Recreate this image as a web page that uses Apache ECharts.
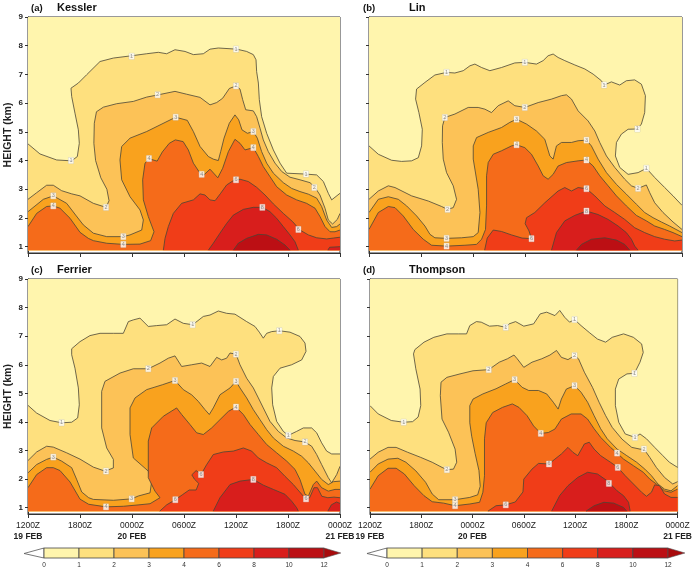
<!DOCTYPE html>
<html><head><meta charset="utf-8">
<script src="https://cdn.jsdelivr.net/npm/echarts@6/dist/echarts.min.js"></script>
<style>html,body{margin:0;padding:0;background:#fff}#c{width:695px;height:573px}</style>
</head><body><div id="c"></div>
<script>
// ---------- scales / legend ----------
const levelBounds = [0, 1, 2, 3, 4, 6, 8, 10, 12];
const levelColors = ['#FFF5AD', '#FEE07E', '#FCC257', '#F9A21E', '#F56B1A', '#F03D18', '#D81E1C', '#BC0F14', '#A80A0C'];
const timeTicks = [0, 6, 12, 18, 24, 30, 36];
const timeLabels = ['1200Z', '1800Z', '0000Z', '0600Z', '1200Z', '1800Z', '0000Z'];
const dateLabels = ['19 FEB', '', '20 FEB', '', '', '', '21 FEB'];
const heightTicks = [1, 2, 3, 4, 5, 6, 7, 8, 9];
const panelTags = ['(a)', '(b)', '(c)', '(d)'];
const panelNames = ['Kessler', 'Lin', 'Ferrier', 'Thompson'];

// ---------- (a) Kessler : contour lines [hour since 12Z 19 Feb, km] ----------
const kessler_1 = [[0,4.58],[1.38,4.23],[3.31,4.02],[5.04,3.99],[5.69,4.14],[5.92,4.6],[5.81,5.07],[5.42,5.65],[5.04,6.23],[4.96,6.52],[5.81,6.7],[6.77,6.99],[8.31,7.45],[9.85,7.57],[11.96,7.65],[13.69,7.72],[15.04,7.77],[16.0,7.72],[16.96,7.86],[18.12,7.8],[19.08,7.69],[20.23,7.72],[21.0,7.88],[21.96,7.92],[24.08,7.88],[25.23,7.8],[26.0,7.69],[26.31,7.51],[26.38,7.1],[26.58,6.7],[26.69,6.12],[26.96,5.53],[27.54,4.95],[28.31,4.37],[29.08,3.91],[29.85,3.56],[31.96,3.53],[33.31,3.5],[34.08,3.27],[34.65,2.86],[35.04,2.63],[36,2.86]];
const kessler_2 = [[0,2.65],[1.0,2.88],[2.15,3.14],[2.92,3.14],[3.88,2.95],[5.04,2.84],[6.0,2.77],[7.54,2.51],[9.0,2.37],[9.35,2.6],[9.1,3.0],[8.4,3.4],[7.8,4.0],[7.6,4.6],[7.65,5.3],[7.9,5.7],[8.7,5.86],[10.23,5.98],[12.15,6.06],[13.69,6.21],[15.04,6.29],[16.96,6.41],[18.31,6.31],[19.85,6.2],[21.0,5.94],[21.77,6.02],[22.46,6.17],[23.23,6.51],[24.0,6.6],[24.46,6.49],[24.77,6.12],[25.12,5.77],[26.0,5.73],[26.38,5.53],[26.77,5.13],[27.15,4.72],[27.73,4.31],[28.5,3.91],[29.27,3.62],[30.23,3.42],[31.38,3.33],[32.54,3.23],[33.12,3.06],[33.69,2.8],[34.27,2.34],[34.65,1.93],[35.15,1.79],[35.69,1.95],[36,2.16]];
const kessler_3 = [[0,2.22],[1.77,2.65],[2.92,2.77],[4.46,2.51],[5.5,2.1],[6.38,1.76],[7.54,1.47],[9.08,1.35],[11.0,1.35],[11.77,1.41],[13.12,1.58],[13.31,1.93],[12.92,2.28],[11.77,2.74],[10.81,3.33],[10.61,4.02],[10.81,4.49],[11.77,4.78],[13.69,5.01],[15.23,5.24],[17.04,5.51],[18.38,5.4],[19.08,5.01],[19.85,4.49],[20.81,4.14],[21.38,4.05],[21.96,4.0],[22.23,4.31],[22.62,4.78],[23.23,5.3],[23.88,5.59],[24.31,5.42],[24.69,5.07],[25.31,4.95],[26.0,5.01],[26.46,4.78],[26.96,4.31],[27.54,3.91],[28.31,3.56],[29.46,3.23],[30.42,3.03],[31.38,2.92],[32.35,2.83],[33.31,2.69],[33.88,2.4],[34.46,1.93],[35.04,1.67],[35.62,1.7],[36,1.79]];
const kessler_4 = [[0,1.7],[1.0,2.16],[2.15,2.4],[2.92,2.42],[3.69,2.34],[4.85,1.99],[6.0,1.5],[6.96,1.29],[7.54,1.21],[9.08,1.12],[11.0,1.08],[12.92,1.09],[14.15,1.21],[14.54,1.52],[13.88,2.05],[13.31,2.63],[13.23,3.33],[13.5,3.91],[14.0,4.06],[14.9,3.98],[15.5,4.3],[16.3,4.6],[17.0,4.72],[17.9,4.66],[18.5,4.37],[19.08,3.91],[19.85,3.56],[20.3,3.5],[21.0,3.7],[21.9,3.4],[22.46,3.73],[23.12,4.31],[23.88,4.74],[24.46,4.6],[25.04,4.37],[26.0,4.45],[26.58,4.14],[27.15,3.79],[27.92,3.44],[28.69,3.09],[29.85,2.8],[31.0,2.63],[32.15,2.51],[33.12,2.34],[33.69,2.05],[34.27,1.7],[34.85,1.52],[35.42,1.52],[36,1.58]];
const kessler_6 = [[15.62,0.88],[15.81,1.29],[16.19,1.7],[16.77,2.16],[17.73,2.51],[19.08,2.63],[19.85,2.84],[20.42,2.8],[21.0,2.63],[21.58,2.6],[22.23,2.86],[22.92,3.15],[23.69,3.3],[24.46,3.35],[25.42,3.27],[26.38,3.07],[27.35,2.8],[28.31,2.49],[29.46,2.16],[30.54,1.87],[31.38,1.58],[32.35,1.41],[33.31,1.31],[34.46,1.27],[35.23,1.3],[36,1.33]];
const kessler_8 = [[20.81,0.88],[21.38,1.12],[22.15,1.47],[22.92,1.81],[23.69,2.1],[24.85,2.3],[26.0,2.37],[27.04,2.37],[27.92,2.22],[28.69,1.99],[29.46,1.7],[30.23,1.41],[30.81,1.17],[31.19,0.88]];
const kessler_8b = [[34.6,0.88],[34.8,0.98],[36,1.0]];
const kessler_10 = [[23.69,0.88],[24.27,1.12],[25.23,1.29],[26.58,1.43],[27.54,1.41],[28.69,1.26],[29.65,1.06],[30.23,0.88]];
const kesslerLabels = [[11.96,7.63,'1'],[24.0,7.88,'1'],[4.96,4.0,'1'],[32.08,3.53,'1'],[14.96,6.29,'2'],[24.0,6.6,'2'],[9.0,2.37,'2'],[33.04,3.06,'2'],[17.04,5.51,'3'],[26.0,5.01,'3'],[2.92,2.77,'3'],[11.0,1.35,'3'],[13.96,4.07,'4'],[20.04,3.52,'4'],[26.0,4.45,'4'],[2.92,2.42,'4'],[11.0,1.08,'4'],[24.0,3.33,'6'],[31.2,1.6,'6'],[27.04,2.37,'8']];

// ---------- (b) Lin ----------
const lin_1 = [[0,4.51],[1.07,4.22],[2.6,4.01],[3.75,3.97],[4.9,3.99],[5.67,4.1],[6.05,4.51],[6.13,5.09],[5.74,5.67],[5.36,6.14],[5.47,6.49],[6.43,6.72],[7.58,6.98],[8.92,7.07],[9.88,7.05],[10.84,7.13],[11.61,7.3],[12.18,7.36],[12.95,7.24],[13.9,7.13],[15.24,7.24],[16.77,7.4],[17.92,7.42],[19.26,7.36],[20.03,7.48],[20.6,7.65],[21.18,7.71],[21.75,7.59],[22.52,7.48],[23.67,7.33],[24.82,7.19],[25.78,7.01],[26.73,6.78],[27.04,6.63],[27.88,6.74],[28.84,6.63],[29.6,6.78],[30.56,6.81],[31.33,6.66],[31.79,6.26],[31.71,5.67],[31.33,5.27],[30.87,5.1],[29.8,5.09],[29.03,4.92],[28.46,4.63],[28.34,4.16],[28.84,3.76],[29.8,3.52],[30.95,3.58],[31.9,3.73],[32.86,3.41],[34.01,3.06],[34.97,2.77],[36,2.44]];
const lin_2 = [[0,2.65],[1.07,2.94],[2.22,3.12],[2.99,3.06],[4.9,2.77],[6.82,2.59],[8.35,2.4],[9.04,2.3],[9.69,2.36],[10.07,2.65],[9.69,3.12],[8.92,3.58],[8.54,4.05],[8.43,4.63],[8.46,5.21],[8.73,5.5],[9.88,5.62],[11.41,5.85],[12.56,5.85],[13.33,5.79],[14.09,5.67],[14.86,5.91],[16.01,6.08],[16.77,5.91],[17.92,5.85],[19.46,6.02],[20.99,6.14],[22.14,6.26],[22.71,6.29],[23.29,6.14],[24.05,5.73],[25.2,5.38],[25.97,5.03],[26.54,4.63],[27.31,4.16],[28.27,3.76],[29.41,3.35],[30.18,3.12],[30.95,3.03],[31.9,3.15],[32.29,2.88],[32.86,2.53],[33.82,2.19],[34.97,1.86],[36,1.6]];
const lin_3 = [[0,2.19],[1.07,2.65],[2.22,2.74],[3.37,2.65],[4.33,2.42],[5.48,2.07],[6.43,1.72],[7.01,1.43],[7.58,1.31],[8.92,1.29],[10.65,1.31],[11.99,1.35],[12.56,1.49],[12.76,2.19],[12.56,3.0],[11.99,4.05],[11.99,4.51],[12.37,4.8],[13.71,4.98],[15.24,5.15],[16.2,5.33],[16.97,5.44],[18.12,5.27],[19.26,5.03],[20.22,4.74],[20.8,4.16],[21.18,4.05],[21.56,4.51],[22.14,4.63],[23.29,4.63],[24.05,4.69],[25.01,4.71],[25.58,4.51],[26.35,4.05],[27.31,3.58],[28.46,3.17],[29.6,2.83],[30.75,2.48],[31.71,2.19],[32.67,2.01],[33.63,1.86],[34.58,1.72],[36,1.49]];
const lin_4 = [[0,1.6],[1.07,2.19],[2.22,2.4],[2.99,2.36],[3.94,2.07],[5.09,1.6],[6.24,1.26],[7.2,1.05],[8.92,1.02],[11.03,1.05],[12.37,1.08],[12.95,1.26],[13.4,1.6],[13.52,2.42],[13.52,3.47],[13.71,3.93],[14.29,4.22],[15.24,4.34],[16.39,4.51],[16.97,4.55],[17.92,4.45],[18.69,4.22],[19.46,3.81],[20.03,3.47],[20.6,3.35],[21.18,3.52],[21.75,3.81],[22.71,3.93],[24.05,3.99],[25.01,4.02],[25.78,3.81],[26.54,3.47],[27.5,3.12],[28.46,2.77],[29.6,2.42],[30.75,2.09],[31.9,1.9],[32.86,1.72],[34.01,1.6],[34.97,1.49],[36,1.35]];
const lin_6 = [[13.3,0.88],[13.6,1.3],[14.29,1.58],[15.24,1.53],[16.39,1.41],[17.6,1.3],[18.69,1.28],[18.4,1.55],[17.96,1.8],[18.12,2.01],[19.07,2.19],[20.22,2.53],[21.75,2.94],[22.52,3.06],[23.29,2.94],[24.05,3.06],[25.01,3.02],[25.97,2.77],[27.12,2.42],[28.27,2.19],[29.41,1.95],[30.56,1.66],[31.71,1.49],[32.86,1.35],[34.01,1.26],[35.16,1.2],[36,1.23]];
const lin_8 = [[20.99,0.88],[21.56,1.49],[22.52,1.9],[23.67,2.09],[25.01,2.24],[26.35,2.12],[27.5,1.95],[28.65,1.72],[29.6,1.49],[30.18,1.26],[30.56,1.02],[30.95,0.88]];
const lin_10 = [[23.86,0.88],[24.44,1.08],[25.58,1.26],[27.12,1.31],[28.46,1.23],[29.41,1.08],[29.99,0.88]];
const linLabels = [[8.92,7.07,'1'],[17.92,7.42,'1'],[27.04,6.63,'1'],[30.87,5.1,'1'],[31.9,3.73,'1'],[8.73,5.5,'2'],[17.92,5.85,'2'],[30.95,3.03,'2'],[9.04,2.3,'2'],[16.97,5.44,'3'],[25.01,4.71,'3'],[8.92,1.29,'3'],[16.97,4.55,'4'],[25.01,4.02,'4'],[8.92,1.02,'4'],[25.01,3.02,'6'],[18.69,1.28,'6'],[25.01,2.24,'8']];

// ---------- (c) Ferrier ----------
const ferrier_1 = [[0,4.58],[1.0,4.31],[2.54,4.05],[3.88,3.97],[5.04,3.99],[5.73,4.14],[5.92,4.6],[5.81,5.19],[5.42,5.88],[5.04,6.35],[5.04,6.56],[6.0,6.81],[7.15,7.02],[8.31,7.1],[9.85,7.1],[11.0,7.1],[11.58,7.51],[12.15,7.57],[12.92,7.63],[13.88,7.34],[14.85,7.37],[16.0,7.4],[16.96,7.6],[17.92,7.45],[19.0,7.4],[20.23,7.69],[21.0,7.74],[21.96,7.88],[22.92,7.8],[23.88,7.77],[25.23,7.51],[26.19,7.34],[26.69,7.14],[27.15,6.93],[27.54,7.1],[28.12,7.16],[29.0,7.19],[30.23,7.14],[31.38,6.99],[31.96,6.76],[32.08,6.47],[31.58,6.17],[30.42,6.0],[29.08,5.88],[28.31,5.59],[28.12,5.19],[28.23,4.6],[28.69,4.02],[29.46,3.67],[30.04,3.53],[31.0,3.67],[31.77,3.79],[32.73,3.79],[33.31,3.62],[33.88,3.27],[34.46,2.98],[35.04,2.88],[36,2.88]];
const ferrier_2 = [[0,2.65],[1.0,2.95],[2.15,3.15],[2.92,3.12],[4.46,2.92],[6.0,2.7],[7.54,2.42],[8.88,2.28],[9.85,2.39],[9.85,2.69],[9.08,3.09],[8.5,3.79],[8.5,5.07],[8.88,5.42],[10.62,5.71],[12.15,5.86],[13.88,5.86],[15.23,6.06],[16.19,6.23],[16.96,6.31],[17.73,5.94],[18.88,6.0],[20.04,6.06],[21.0,5.94],[21.77,6.26],[22.35,6.17],[22.92,6.23],[23.31,6.41],[24.0,6.37],[24.46,6.0],[25.23,5.53],[26.0,5.19],[26.58,4.84],[27.15,4.49],[27.92,4.02],[28.88,3.67],[29.85,3.44],[30.81,3.35],[31.96,3.3],[32.73,3.15],[33.31,2.86],[33.88,2.51],[34.65,2.05],[35.04,1.87],[35.62,2.16],[36,2.45]];
const ferrier_3 = [[0,2.22],[1.0,2.51],[2.15,2.69],[2.92,2.77],[3.88,2.63],[5.04,2.4],[5.6,2.0],[6.2,1.55],[7.0,1.35],[7.54,1.29],[9.85,1.26],[11.96,1.31],[12.73,1.41],[14.08,1.52],[14.27,1.93],[13.88,2.28],[12.15,2.74],[11.77,3.56],[11.77,4.49],[12.35,4.84],[13.69,5.13],[15.5,5.3],[16.96,5.45],[17.92,5.13],[18.88,4.95],[19.65,4.72],[20.42,4.43],[20.92,4.26],[21.38,4.49],[22.15,4.95],[23.31,5.19],[24.0,5.42],[24.46,5.19],[25.23,4.84],[26.0,4.43],[26.77,4.08],[27.54,3.73],[28.31,3.44],[29.46,3.15],[30.62,2.98],[31.58,2.8],[32.35,2.57],[33.12,2.28],[33.88,1.99],[34.65,1.81],[35.23,1.91],[36,1.93]];
const ferrier_4 = [[0,1.7],[1.0,2.16],[2.15,2.4],[2.92,2.4],[3.69,2.3],[4.85,1.9],[6.0,1.3],[7.0,1.12],[9.0,1.03],[11.0,1.05],[12.8,1.1],[14.08,1.14],[15.23,1.35],[14.65,1.58],[13.88,2.05],[13.88,3.33],[14.27,3.79],[15.62,4.2],[17.15,4.49],[17.73,4.26],[18.69,3.91],[19.46,3.62],[20.23,3.56],[21.19,3.79],[22.15,4.08],[23.12,4.37],[24.0,4.52],[24.85,4.26],[25.62,3.91],[26.58,3.56],[27.54,3.21],[28.69,2.92],[29.85,2.63],[30.81,2.34],[31.38,1.99],[31.96,1.47],[32.35,1.41],[32.92,1.81],[33.31,1.93],[33.88,1.7],[34.65,1.58],[35.42,1.64],[36,1.64]];
const ferrier_6 = [[15.2,0.88],[16.0,1.1],[17.0,1.28],[17.8,1.45],[18.6,1.62],[19.4,1.62],[19.7,1.85],[19.2,2.0],[18.9,2.15],[19.4,2.3],[19.96,2.16],[20.6,2.5],[21.38,2.86],[22.54,2.95],[23.69,2.98],[24.85,3.09],[25.81,2.98],[26.58,2.74],[27.54,2.57],[28.69,2.4],[29.65,2.1],[30.62,1.81],[31.58,1.47],[32.08,1.31],[32.5,1.35],[33.0,1.7],[33.4,1.7],[33.9,1.4],[34.6,1.35],[35.3,1.37],[36,1.35]];
const ferrier_8 = [[21.38,0.88],[22.15,1.35],[23.31,1.81],[24.46,1.93],[26.0,1.99],[27.15,1.79],[28.31,1.64],[29.65,1.47],[30.42,1.23],[31.0,1.0],[31.19,0.88]];
const ferrier_8b = [[34.6,0.88],[35.0,1.1],[35.6,1.2],[36,1.15]];
const ferrierLabels = [[3.88,3.97,'1'],[19.0,7.4,'1'],[29.0,7.19,'1'],[30.04,3.53,'1'],[13.88,5.86,'2'],[24.0,6.37,'2'],[31.96,3.3,'2'],[9.0,2.28,'2'],[2.92,2.77,'3'],[16.96,5.45,'3'],[24.0,5.42,'3'],[11.96,1.31,'3'],[24.0,4.52,'4'],[9.0,1.03,'4'],[19.96,2.16,'6'],[17.0,1.28,'6'],[32.08,1.31,'6'],[26.0,1.99,'8']];

// ---------- (d) Thompson ----------
const thompson_1 = [[0,4.57],[0.96,4.28],[2.49,4.05],[3.94,3.99],[4.98,4.01],[5.63,4.17],[5.94,4.57],[5.86,5.15],[5.36,5.86],[5.09,6.38],[5.25,6.53],[6.32,6.79],[7.47,6.96],[9.0,7.08],[10.34,7.08],[11.3,7.08],[11.68,7.37],[12.45,7.51],[13.02,7.49],[13.98,7.35],[14.94,7.37],[15.89,7.31],[16.28,7.43],[17.04,7.51],[18.0,7.35],[19.15,7.43],[19.92,7.78],[20.68,7.84],[21.64,7.72],[22.21,7.9],[22.79,7.66],[23.36,7.49],[23.94,7.58],[24.7,7.37],[25.66,7.13],[26.62,6.9],[27.58,6.79],[28.35,6.96],[29.68,7.08],[30.83,6.96],[31.79,6.73],[31.98,6.43],[31.6,6.09],[30.95,5.7],[30.07,5.68],[29.11,5.5],[28.72,5.15],[28.72,4.57],[29.11,3.99],[29.87,3.58],[31.02,3.46],[31.6,3.58],[32.36,3.41],[33.32,3.11],[34.28,2.82],[35.04,2.59],[36,2.41]];
const thompson_2 = [[0,2.7],[0.96,2.94],[2.11,3.11],[3.06,3.11],[4.4,2.94],[5.94,2.76],[7.28,2.59],[8.43,2.41],[9.0,2.33],[9.77,2.35],[10.15,2.59],[9.96,3.05],[9.19,3.64],[8.43,4.1],[8.23,4.92],[8.31,5.39],[9.0,5.56],[10.53,5.68],[12.06,5.79],[13.9,5.83],[15.13,6.09],[16.09,6.21],[16.85,6.34],[17.23,6.21],[18.0,5.91],[18.96,6.09],[20.11,6.21],[21.06,6.34],[21.83,6.5],[22.4,6.26],[23.17,6.18],[23.94,6.32],[24.4,6.21],[25.09,5.74],[26.04,5.21],[26.81,4.69],[27.58,4.22],[28.35,3.81],[29.49,3.4],[30.64,3.11],[31.6,3.05],[32.06,3.05],[32.75,2.76],[33.51,2.41],[34.47,2.06],[35.43,1.83],[36,1.91]];
const thompson_3 = [[0,2.24],[0.96,2.53],[2.11,2.7],[3.26,2.73],[4.21,2.59],[5.36,2.29],[6.51,1.89],[7.28,1.48],[8.04,1.28],[9.96,1.28],[11.68,1.36],[12.6,1.45],[12.9,1.75],[12.75,2.3],[12.3,2.9],[11.9,3.5],[11.68,3.97],[11.68,4.57],[12.06,4.8],[13.21,4.98],[14.75,5.16],[15.89,5.33],[16.93,5.48],[17.81,5.21],[18.58,5.1],[19.72,5.1],[20.68,4.98],[21.45,4.69],[22.02,4.45],[22.4,4.8],[22.98,5.15],[23.94,5.27],[24.7,5.04],[25.47,4.69],[26.23,4.22],[27.0,3.76],[27.77,3.41],[28.92,3.05],[30.06,2.82],[31.21,2.59],[32.17,2.35],[32.94,2.12],[33.7,1.83],[34.47,1.65],[35.23,1.59],[36,1.77]];
const thompson_4 = [[0,1.65],[0.96,2.12],[2.11,2.38],[3.06,2.38],[4.02,2.18],[5.17,1.77],[6.32,1.42],[7.28,1.21],[8.62,1.16],[9.96,1.07],[11.68,1.13],[12.83,1.19],[13.21,1.54],[13.4,2.12],[13.4,3.41],[13.6,3.97],[14.36,4.33],[15.51,4.51],[16.66,4.63],[17.43,4.51],[18.38,4.22],[19.15,3.86],[19.99,3.6],[20.87,3.63],[21.64,3.75],[22.4,4.1],[23.55,4.28],[24.7,4.28],[25.47,4.1],[26.23,3.76],[27.0,3.46],[28.15,3.11],[28.92,2.91],[29.68,2.7],[30.83,2.47],[31.98,2.24],[32.75,2.0],[33.51,1.83],[34.47,1.59],[35.23,1.54],[36,1.65]];
const thompson_6 = [[13.8,0.88],[14.75,1.07],[15.89,1.1],[17.0,1.2],[17.9,1.55],[18.0,2.0],[18.96,2.35],[19.72,2.55],[20.95,2.53],[21.64,2.7],[22.4,2.88],[23.17,3.11],[23.74,2.94],[24.32,2.82],[25.09,3.23],[25.66,3.29],[26.23,3.05],[27.0,2.82],[28.15,2.59],[29.0,2.41],[29.87,2.12],[30.83,1.83],[31.79,1.54],[32.36,1.4],[32.94,1.54],[33.32,1.8],[33.89,1.77],[34.47,1.48],[35.23,1.36],[36,1.36]];
const thompson_8 = [[21.26,0.88],[22.21,1.43],[23.17,1.77],[24.32,2.06],[25.47,2.24],[26.62,2.18],[27.77,1.94],[28.92,1.59],[29.68,1.42],[30.26,1.19],[30.45,0.88]];
const thompson_10 = [[25.28,0.88],[26.23,1.07],[27.38,1.19],[28.53,1.16],[29.68,1.01],[30.06,0.88]];
const thompsonLabels = [[3.94,3.99,'1'],[15.89,7.31,'1'],[23.94,7.58,'1'],[30.95,5.7,'1'],[31.02,3.46,'1'],[13.9,5.83,'2'],[23.94,6.32,'2'],[32.06,3.05,'2'],[9.0,2.33,'2'],[16.93,5.48,'3'],[23.94,5.27,'3'],[9.96,1.28,'3'],[19.99,3.6,'4'],[28.92,2.91,'4'],[9.96,1.07,'4'],[20.95,2.53,'6'],[29.0,2.41,'6'],[15.89,1.1,'6'],[27.96,1.85,'8']];

// ---------- assemble ----------
const BOTTOM = 0.88, TOP = 9, YMIN = 0.78;
const panels = [
  {levels: [[1,[kessler_1]],[2,[kessler_2]],[3,[kessler_3]],[4,[kessler_4]],[6,[kessler_6]],[8,[kessler_8,kessler_8b]],[10,[kessler_10]]], labels: kesslerLabels},
  {levels: [[1,[lin_1]],[2,[lin_2]],[3,[lin_3]],[4,[lin_4]],[6,[lin_6]],[8,[lin_8]],[10,[lin_10]]], labels: linLabels},
  {levels: [[1,[ferrier_1]],[2,[ferrier_2]],[3,[ferrier_3]],[4,[ferrier_4]],[6,[ferrier_6]],[8,[ferrier_8,ferrier_8b]]], labels: ferrierLabels},
  {levels: [[1,[thompson_1]],[2,[thompson_2]],[3,[thompson_3]],[4,[thompson_4]],[6,[thompson_6]],[8,[thompson_8]],[10,[thompson_10]]], labels: thompsonLabels}
];
const gridBoxes = [
  {left: 28, top: 17, width: 312, height: 236},
  {left: 369, top: 17, width: 313, height: 236},
  {left: 28, top: 279, width: 312, height: 235},
  {left: 370, top: 279, width: 313, height: 235}
];
const LINE = '#4a4536';
const FONT = 'Liberation Sans, Arial, sans-serif';

function regionSeries(g, pts, fill, stroke) {
  return {
    type: 'custom', xAxisIndex: g, yAxisIndex: g, data: pts, encode: {x: 0, y: 1},
    silent: true, animation: false, clip: true,
    renderItem: function (params, api) {
      if (params.dataIndex !== 0) return null;
      const line = pts.map(p => api.coord(p));
      const first = pts[0], last = pts[pts.length - 1];
      const poly = line.concat([api.coord([last[0], BOTTOM]), api.coord([first[0], BOTTOM])]);
      const children = [{type: 'polygon', shape: {points: poly}, style: {fill: fill, stroke: null}}];
      if (stroke) children.push({type: 'polyline', shape: {points: line}, style: {stroke: LINE, lineWidth: 0.8, fill: null}});
      return {type: 'group', children: children};
    }
  };
}

const grids = [], xAxes = [], yAxes = [], series = [], titles = [];
panels.forEach((p, g) => {
  const isBottom = g >= 2, isLeft = g % 2 === 0;
  grids.push(Object.assign({show: true, borderColor: '#333', borderWidth: 1, backgroundColor: '#fff'}, gridBoxes[g]));
  xAxes.push({
    gridIndex: g, type: 'value', min: timeTicks[0], max: timeTicks[timeTicks.length - 1], interval: 6,
    axisLine: {show: true, lineStyle: {color: '#333', width: 1}},
    axisTick: {show: true, length: 4, lineStyle: {color: '#333'}},
    splitLine: {show: false},
    axisLabel: isBottom ? {
      show: true, margin: 6, fontFamily: FONT, color: '#222', lineHeight: 11,
      formatter: function (v) {
        const i = timeTicks.indexOf(v);
        if (i < 0) return '';
        return '{t|' + timeLabels[i] + '}' + (dateLabels[i] ? '\n{d|' + dateLabels[i] + '}' : '');
      },
      rich: {t: {fontSize: 8.5, fontFamily: FONT, color: '#222', lineHeight: 11}, d: {fontSize: 8.5, fontWeight: 'bold', fontFamily: FONT, color: '#222', lineHeight: 11}}
    } : {show: false}
  });
  yAxes.push({
    gridIndex: g, type: 'value', min: YMIN, max: TOP,
    axisLine: {show: true, lineStyle: {color: '#333', width: 1}},
    axisTick: {show: true, length: 3, customValues: heightTicks, lineStyle: {color: '#333'}},
    splitLine: {show: false},
    axisLabel: isLeft ? {show: true, customValues: heightTicks, fontSize: 8, fontWeight: 'bold', color: '#222', margin: 5, fontFamily: FONT} : {show: false},
    name: isLeft ? 'HEIGHT (km)' : '', nameLocation: 'middle', nameGap: 14, nameRotate: 90,
    nameTextStyle: {fontSize: 10.5, fontWeight: 'bold', color: '#222', fontFamily: FONT}
  });
  // background (0-1 class)
  series.push(regionSeries(g, [[0, TOP], [36, TOP]], levelColors[0], false));
  p.levels.forEach(([lev, pieces]) => {
    const ci = levelBounds.indexOf(lev);
    pieces.forEach(pts => series.push(regionSeries(g, pts, levelColors[ci], true)));
  });
  series.push({
    type: 'scatter', xAxisIndex: g, yAxisIndex: g, data: p.labels, symbolSize: 0.1, silent: true, animation: false,
    label: {show: true, position: 'inside', formatter: d => d.value[2], fontSize: 5.5, color: '#777', fontFamily: FONT,
      backgroundColor: '#fff', padding: [0, 1, 0, 1], lineHeight: 6, borderColor: '#bbb', borderWidth: 0.3},
    z: 5
  });
  const tx = isLeft ? 31 : 363, nx = isLeft ? 57 : 409, ty = isBottom ? 265 : 3;
  titles.push({text: panelTags[g], left: tx, top: ty + 0.5, padding: 0, textStyle: {fontSize: 9.5, fontWeight: 'bold', color: '#111', fontFamily: FONT}});
  titles.push({text: panelNames[g], left: nx, top: ty - 0.5, padding: 0, textStyle: {fontSize: 11, fontWeight: 'bold', color: '#111', fontFamily: FONT}});
});

// ---------- colour bars ----------
const barBoxes = [{left: 44, top: 548, width: 280, height: 10}, {left: 387, top: 548, width: 281, height: 10}];
const barIdx = [-1, 0, 1, 2, 3, 4, 5, 6, 7, 8];
barBoxes.forEach((b, k) => {
  const gi = grids.length;
  grids.push(Object.assign({show: false}, b));
  xAxes.push({gridIndex: gi, type: 'value', min: 0, max: 8, axisLine: {show: false}, axisTick: {show: false}, splitLine: {show: false},
    axisLabel: {show: true, customValues: [0, 1, 2, 3, 4, 5, 6, 7, 8], formatter: v => String(levelBounds[v]), fontSize: 6.5, color: '#333', margin: 4, fontFamily: FONT}});
  yAxes.push({gridIndex: gi, type: 'value', min: 0, max: 1, show: false});
  series.push({
    type: 'custom', xAxisIndex: gi, yAxisIndex: gi, data: barIdx.map(i => [i]), clip: false, silent: true, animation: false,
    renderItem: function (params, api) {
      const i = barIdx[params.dataIndex];
      if (i === -1) {
        return {type: 'polygon', shape: {points: [api.coord([0, 0]), api.coord([0, 1]), api.coord([-0.57, 0.45])]}, style: {fill: '#fff', stroke: '#555', lineWidth: 0.8}};
      }
      if (i === 8) {
        return {type: 'polygon', shape: {points: [api.coord([8, 0]), api.coord([8, 1]), api.coord([8.48, 0.5])]}, style: {fill: levelColors[8], stroke: '#555', lineWidth: 0.6}};
      }
      const a = api.coord([i, 1]), c = api.coord([i + 1, 0]);
      return {type: 'rect', shape: {x: a[0], y: a[1], width: c[0] - a[0], height: c[1] - a[1]}, style: {fill: levelColors[i], stroke: '#444', lineWidth: 0.8}};
    }
  });
});

const chart = echarts.init(document.getElementById('c'), null, {renderer: 'canvas'});
chart.setOption({animation: false, backgroundColor: '#fff', title: titles, grid: grids, xAxis: xAxes, yAxis: yAxes, series: series});
</script></body></html>
